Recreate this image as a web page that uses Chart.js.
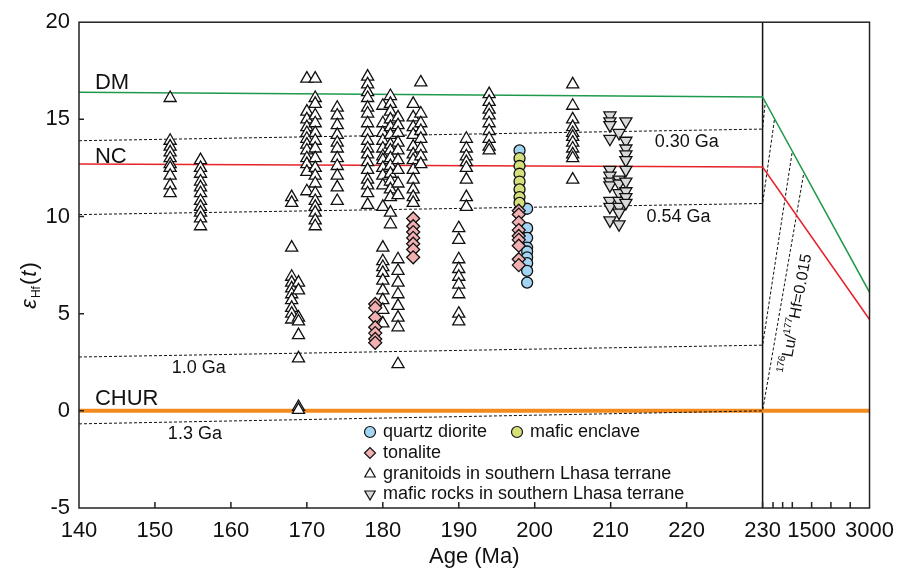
<!DOCTYPE html>
<html>
<head>
<title>Hf isotope evolution</title>
<style>
  body { margin: 0; background: #ffffff; }
  #wrap { width: 904px; height: 570px; }
</style>
<script src="https://cdn.jsdelivr.net/npm/chart.js"></script>
</head>
<body>
<div id="wrap"><canvas id="hf" width="904" height="570"></canvas></div>
<script>
// values: [age (Ma), [eHf(t) values...]]
const granitoidCols = [
    [152.0, [16.1, 13.9, 13.6, 13.3, 13.0, 12.7, 12.5, 12.1, 11.6, 11.2]],
    [156.0, [12.9, 12.5, 12.2, 11.8, 11.5, 11.2, 10.8, 10.5, 10.2, 9.9, 9.5]],
    [168.0, [11.0, 10.7, 8.4, 6.9, 6.6, 6.3, 6.0, 5.7, 5.3, 5.0, 4.7]],
    [168.9, [6.6, 6.2, 4.8, 4.6, 3.9, 2.7, 0.2, 0.05]],
    [170.0, [17.1, 15.4, 15.0, 14.6, 14.3, 14.0, 13.7, 13.4, 13.0, 12.7, 12.3, 11.3]],
    [171.1, [17.1, 16.1, 15.8, 15.2, 14.8, 14.3, 13.9, 13.5, 13.0, 12.5, 12.1, 11.7, 11.2, 10.8, 10.5, 10.2, 9.8, 9.5]],
    [174.0, [15.6, 15.2, 14.7, 14.2, 13.8, 13.5, 13.0, 12.6, 12.1, 11.5, 10.8]],
    [178.0, [17.2, 16.8, 16.4, 16.1, 15.6, 15.3, 14.8, 14.3, 13.9, 13.5, 13.2, 12.8, 12.4, 11.9, 11.6, 11.2, 10.6]],
    [180.0, [15.7, 14.8, 14.3, 13.9, 13.5, 13.1, 12.9, 12.5, 12.1, 11.6, 10.5, 8.4, 7.7, 7.4, 7.1, 6.7, 6.2, 5.7, 5.2, 4.5]],
    [181.0, [16.2, 15.8, 15.4, 15.0, 14.6, 14.2, 13.7, 13.4, 13.0, 12.6, 12.2, 11.8, 11.4, 11.0, 10.2, 9.6]],
    [182.0, [15.1, 14.7, 14.3, 13.8, 13.4, 12.9, 12.4, 11.7, 11.1, 7.8, 7.2, 6.6, 6.0, 5.4, 4.8, 4.3, 2.4]],
    [184.0, [15.8, 15.1, 14.6, 14.2, 13.6, 13.2, 12.9, 12.4, 11.9, 11.4, 11.0, 10.7]],
    [185.0, [16.9, 15.3, 14.8, 14.4, 14.0, 13.5, 13.1, 12.7]],
    [190.0, [9.4, 8.8, 7.8, 7.3, 6.9, 6.5, 6.0, 5.0, 4.6]],
    [191.0, [14.0, 13.5, 13.1, 12.8, 12.5, 11.9, 11.0, 10.5]],
    [194.0, [16.3, 15.9, 15.5, 15.2, 14.8, 14.4, 14.0, 13.6, 13.4]],
    [205.0, [16.8, 15.7, 15.0, 14.6, 14.3, 14.1, 13.8, 13.5, 13.2, 13.0, 11.9]]
];
const maficRockCols = [
    [209.9, [15.2, 14.9, 14.7, 14.0, 12.4, 12.1, 11.8, 11.6, 10.8, 10.5, 9.8]],
    [211.1, [14.3, 11.9, 11.7, 11.2, 10.8, 10.5, 10.2, 9.6]],
    [212.0, [14.9, 13.9, 13.5, 13.2, 12.9, 12.4, 11.8, 11.3, 11.0, 10.7]]
];
const tonaliteCols = [
    [179.0, [5.5, 5.3, 4.8, 4.3, 4.0, 3.7, 3.5]],
    [184.0, [9.9, 9.5, 9.2, 8.9, 8.6, 8.3, 7.9]],
    [197.9, [10.3, 10.1, 9.7, 9.3, 9.0, 8.8, 8.5, 7.8, 7.5]]
];
const maficEnclaveCols = [
    [198.0, [13.0, 12.6, 12.2, 11.8, 11.4, 11.0, 10.7]]
];
const quartzDioriteCols = [
    [198.0, [13.4]],
    [199.0, [10.4, 9.4, 8.9, 8.4, 8.2, 7.9, 7.6, 7.2, 6.6]]
];

// reference curves
const dmAges = [140, 230, 3000];
const dmValues = [16.4, 16.15, 6.1];
const ncAges = [140, 230, 3000];
const ncValues = [12.7, 12.55, 4.7];
const churAges = [140, 3000];
const churValues = [0, 0];
const t030Ages = [140, 230, 300];
const t030Values = [13.9, 14.5, 15.9];
const t054Ages = [140, 230, 540];
const t054Values = [10.1, 10.67, 15.03];
const t100Ages = [140, 230, 1000];
const t100Values = [2.77, 3.38, 13.36];
const t130Ages = [140, 230, 1300];
const t130Values = [-0.67, 0, 12.27];
const splitAges = [230, 230];
const splitValues = [-5, 20];

// axis ticks
const xTickAges = [140, 150, 160, 170, 180, 190, 200, 210, 220, 230, 500, 750, 1000, 1500, 2000, 2500, 3000];
const xTickLabels = ['140', '150', '160', '170', '180', '190', '200', '210', '220', '230', '', '', '', '1500', '', '', '3000'];

// the part after 230 Ma is squeezed into a narrow strip
const SPLIT_AGE = 230, MAX_AGE = 3000, BREAK_UNITS = 14.08;
function tx(age) {
    return age <= SPLIT_AGE ? age : SPLIT_AGE + (age - SPLIT_AGE) * BREAK_UNITS / (MAX_AGE - SPLIT_AGE);
}
function colPoints(cols) {
    const pts = [];
    cols.forEach(c => c[1].forEach(v => pts.push({ x: tx(c[0]), y: v })));
    return pts;
}
function linePoints(ages, vals) {
    return ages.map((a, i) => ({ x: tx(a), y: vals[i] }));
}

const fam = "'Liberation Sans', Arial, sans-serif";
Chart.defaults.font.family = fam;
Chart.defaults.color = '#111';

function marks(label, cols, style, bg, radius, rotation) {
    return {
        label: label, data: colPoints(cols), showLine: false,
        pointStyle: style, pointRadius: radius, pointRotation: rotation || 0,
        pointBackgroundColor: bg, pointBorderColor: '#111', pointBorderWidth: 1.3
    };
}
function curve(ages, vals, color, width, dash) {
    return {
        label: '', data: linePoints(ages, vals), showLine: true, pointRadius: 0,
        borderColor: color, borderWidth: width, borderDash: dash || [], fill: false
    };
}

const datasets = [
    marks('tonalite', tonaliteCols, 'rectRot', '#f1b0b2', 6.5),
    marks('mafic enclave', maficEnclaveCols, 'circle', '#d5e07c', 5.5),
    marks('quartz diorite', quartzDioriteCols, 'circle', '#a3d5f2', 5.5),
    marks('granitoids in southern Lhasa terrane', granitoidCols, 'triangle', '#ffffff', 7),
    marks('mafic rocks in southern Lhasa terrane', maficRockCols, 'triangle', '#d9d9d9', 7, 180),
    curve(dmAges, dmValues, '#1f9a4c', 1.5),
    curve(ncAges, ncValues, '#e62329', 1.5),
    curve(t030Ages, t030Values, '#111', 1, [3, 2]),
    curve(t054Ages, t054Values, '#111', 1, [3, 2]),
    curve(t100Ages, t100Values, '#111', 1, [3, 2]),
    curve(t130Ages, t130Values, '#111', 1, [3, 2]),
    curve(churAges, churValues, '#f28a1e', 4),
    curve(splitAges, splitValues, '#111', 1.5)
];

// text next to curves: [text, age, value, size]
const curveLabels = [
    ['DM', 142.1, 16.56, 22], ['NC', 142.1, 12.77, 22], ['CHUR', 142.1, 0.31, 22],
    ['0.30 Ga', 215.8, 13.6, 18], ['0.54 Ga', 214.7, 9.74, 18],
    ['1.0 Ga', 152.2, 1.95, 18], ['1.3 Ga', 151.7, -1.44, 18]
];
const legendRows = [
    [0, 370, 432], [1, 517, 432], [2, 370, 453], [3, 370, 474], [4, 370, 494]
];
const legendOrder = [2, 1, 0, 3, 4];

const decor = {
    id: 'decor',
    afterDatasetsDraw(chart) {
        const ctx = chart.ctx, a = chart.chartArea;
        const xs = chart.scales.x, ys = chart.scales.y;
        ctx.save();
        ctx.strokeStyle = '#222';
        ctx.lineWidth = 1.5;
        ctx.strokeRect(a.left, a.top, a.right - a.left, a.bottom - a.top);
        ctx.beginPath();
        xs.ticks.forEach(t => {
            const p = xs.getPixelForValue(t.value);
            if (p <= a.left + 1 || p >= a.right - 1) return;
            ctx.moveTo(p, a.bottom);
            ctx.lineTo(p, a.bottom - 6);
        });
        ys.ticks.forEach(t => {
            const p = ys.getPixelForValue(t.value);
            if (p <= a.top + 1 || p >= a.bottom - 1) return;
            ctx.moveTo(a.left, p);
            ctx.lineTo(a.left + 5, p);
        });
        ctx.stroke();
        ctx.restore();
    },
    afterDraw(chart) {
        const ctx = chart.ctx;
        const xs = chart.scales.x, ys = chart.scales.y;
        ctx.save();
        ctx.fillStyle = '#111';
        ctx.textBaseline = 'alphabetic';
        curveLabels.forEach(l => {
            ctx.font = l[3] + 'px ' + fam;
            ctx.fillText(l[0], xs.getPixelForValue(tx(l[1])), ys.getPixelForValue(l[2]));
        });

        // y axis title: eHf(t)
        ctx.save();
        ctx.translate(36, 285);
        ctx.rotate(-Math.PI / 2);
        const parts = [['\u03b5', 'italic 22px ' + fam, 0], ['Hf', '12px ' + fam, 4], ['(', '22px ' + fam, 0],
                       ['t', 'italic 22px ' + fam, 0], [')', '22px ' + fam, 0]];
        let w = 0;
        parts.forEach(p => { ctx.font = p[1]; w += ctx.measureText(p[0]).width + 1; });
        let x = -w / 2;
        parts.forEach(p => { ctx.font = p[1]; ctx.fillText(p[0], x, p[2]); x += ctx.measureText(p[0]).width + 1; });
        ctx.restore();

        // 176Lu/177Hf = 0.015 along the model age lines
        ctx.save();
        ctx.translate(xs.getPixelForValue(tx(1080)), ys.getPixelForValue(5.0));
        ctx.rotate(-79.5 * Math.PI / 180);
        const lu = [['176', '10px ' + fam, -7], ['Lu/', '16px ' + fam, 0], ['177', '10px ' + fam, -7], ['Hf=0.015', '16px ' + fam, 0]];
        w = 0;
        lu.forEach(p => { ctx.font = p[1]; w += ctx.measureText(p[0]).width; });
        x = -w / 2;
        lu.forEach(p => { ctx.font = p[1]; ctx.fillText(p[0], x, 5 + p[2]); x += ctx.measureText(p[0]).width; });
        ctx.restore();

        // legend
        ctx.font = '18px ' + fam;
        ctx.textBaseline = 'middle';
        legendRows.forEach(r => {
            const ds = chart.data.datasets[legendOrder[r[0]]];
            ctx.fillStyle = ds.pointBackgroundColor;
            ctx.strokeStyle = '#111';
            ctx.lineWidth = 1.2;
            Chart.helpers.drawPoint(ctx, {
                pointStyle: ds.pointStyle, radius: ds.pointStyle === 'triangle' ? 6 : 5.5,
                rotation: ds.pointRotation, borderWidth: 1.2
            }, r[1], r[2]);
            ctx.fillStyle = '#111';
            ctx.fillText(ds.label, r[1] + 13, r[2]);
        });
        ctx.restore();
    }
};

new Chart(document.getElementById('hf'), {
    type: 'scatter',
    data: { datasets: datasets },
    options: {
        responsive: false,
        animation: false,
        layout: { padding: { top: 20, right: 34, left: 0, bottom: 0 } },
        plugins: { legend: { display: false }, tooltip: { enabled: false } },
        scales: {
            x: {
                type: 'linear', min: 140, max: tx(MAX_AGE),
                afterBuildTicks: s => { s.ticks = xTickAges.map(a => ({ value: tx(a) })); },
                afterFit: s => { s.height = 62; },
                ticks: {
                    autoSkip: false, maxRotation: 0, padding: 10,
                    font: { size: 22 }, color: '#111',
                    callback: (v, i) => xTickLabels[i]
                },
                grid: { display: false, drawTicks: false },
                border: { display: false },
                title: { display: true, text: 'Age (Ma)', font: { size: 22 }, color: '#111', padding: { top: 0, bottom: 0 } }
            },
            y: {
                min: -5, max: 20,
                afterFit: s => { s.width = 79; },
                ticks: { stepSize: 5, padding: 9, font: { size: 22 }, color: '#111' },
                grid: { display: false, drawTicks: false },
                border: { display: false }
            }
        }
    },
    plugins: [decor]
});
</script>
</body>
</html>
